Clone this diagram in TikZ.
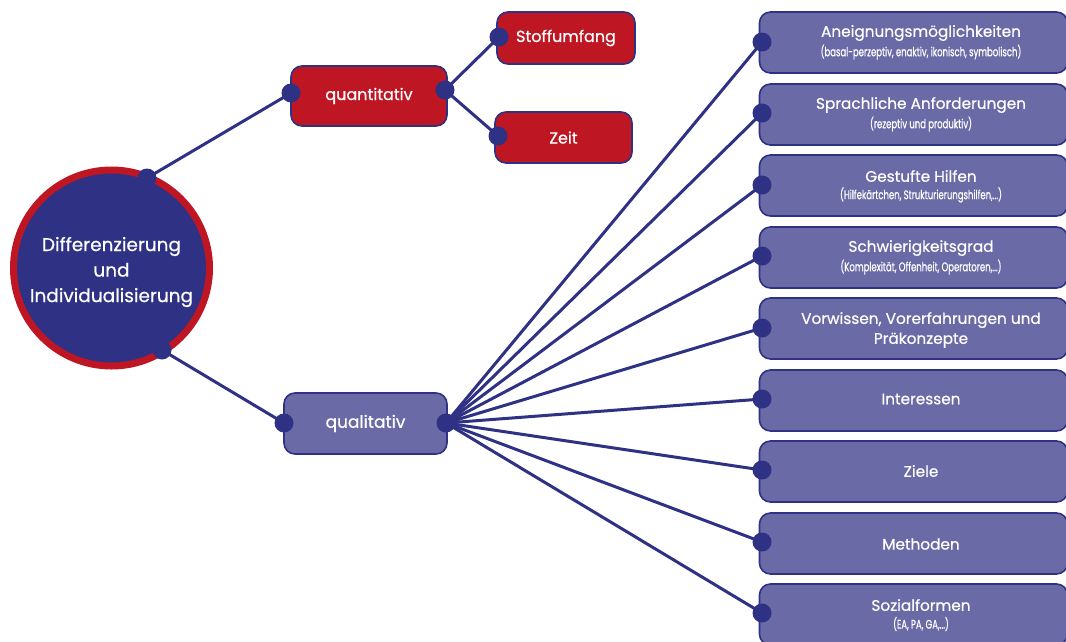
\documentclass[tikz,border=0pt]{standalone}
\usepackage{fontspec}
\setmainfont{Poppins}[FakeBold=0.6]
\newfontfamily\condfont{Poppins}[FakeStretch=0.68,FakeBold=0.6]
\definecolor{myred}{HTML}{BE1622}
\definecolor{myblue}{HTML}{2E3184}
\definecolor{mypurple}{HTML}{6A6BA6}
\begin{document}
\begin{tikzpicture}[x=1pt,y=-1pt,
  conn/.style={draw=myblue,line width=3pt},
  dotfill/.style={fill=myblue},
  redbox/.style={draw=myblue,line width=1.6pt,fill=myred,rounded corners=11pt,text=white,font=\fontsize{16}{19}\selectfont},
  purbox/.style={draw=myblue,line width=1.6pt,fill=mypurple,rounded corners=11pt,minimum width=308pt,minimum height=61pt},
  title/.style={text=white,align=center,font=\fontsize{15.3}{18}\selectfont},
  sub/.style={text=white,font=\condfont\fontsize{12.5}{13}\selectfont}
]
\useasboundingbox (0,0) rectangle (1066,641);
% central circle
\node[circle,fill=myblue,draw=myred,line width=7pt,minimum size=196pt,inner sep=0pt] (main) at (111.5,268) {};
\node[text=white,align=center,font=\fontsize{18.5}{25.5}\selectfont] (maintext) at (111.5,272) {Differenzierung\\und\\Individualisierung};
% level 1
\node[redbox,minimum width=156pt,minimum height=60pt] (quant) at (369,96) {quantitativ};
\node[purbox,minimum width=163pt,text=white,font=\fontsize{17}{20}\selectfont] (qual) at (365.5,423.5) {qualitativ};
% level 2 red
\node[redbox,minimum width=138pt,minimum height=52pt] (stoff) at (566,38) {Stoffumfang};
\node[redbox,minimum width=137pt,minimum height=51pt] (zeit) at (563.5,137.5) {Zeit};
% right boxes
\foreach \n/\y in {1/42.5,2/114.5,3/185.5,4/257.5,5/328.5,6/400.5,7/471.5,8/543.5,9/614.5}{
  \node[purbox] (b\n) at (913.5,\y) {};
}
\node[title] (t1) at (921,33) {Aneignungsmöglichkeiten};
\node[sub] (s1) at (921,52) {(basal-perzeptiv, enaktiv, ikonisch, symbolisch)};
\node[title] (t2) at (921,105) {Sprachliche Anforderungen};
\node[sub] (s2) at (921,124) {(rezeptiv und produktiv)};
\node[title] (t3) at (921,176) {Gestufte Hilfen};
\node[sub] (s3) at (921,195) {(Hilfekärtchen, Strukturierungshilfen,...)};
\node[title] (t4) at (921,248) {Schwierigkeitsgrad};
\node[sub] (s4) at (921,267) {(Komplexität, Offenheit, Operatoren,...)};
\node[title,font=\fontsize{15.3}{20}\selectfont] (t5) at (921,330) {Vorwissen, Vorerfahrungen und\\Präkonzepte};
\node[title] (t6) at (921,399) {Interessen};
\node[title] (t7) at (921,471) {Ziele};
\node[title] (t8) at (921,544) {Methoden};
\node[title] (t9) at (921,605) {Sozialformen};
\node[sub] (s9) at (921,624) {(EA, PA, GA,...)};
% dot positions
\coordinate (dm1) at (147,178);
\coordinate (dm2) at (162,350);
\coordinate (dq1) at (291,93);
\coordinate (dq2) at (445,90);
\coordinate (ds) at (499,37);
\coordinate (dz) at (498,136);
\coordinate (dl1) at (284,423);
\coordinate (dl2) at (446,423);
\foreach \n/\y in {1/42,2/113,3/185,4/256,5/328,6/399,7/470,8/542,9/613}{
  \coordinate (dr\n) at (762,\y);
}
% connectors
\draw[conn] (dm1) -- (dq1);
\draw[conn] (dm2) -- (dl1);
\draw[conn] (dq2) -- (ds);
\draw[conn] (dq2) -- (dz);
\foreach \n in {1,...,9}{
  \draw[conn] (dl2) -- (dr\n);
}
% dots
\foreach \c in {dm1,dm2,dq1,dq2,ds,dz,dl1,dl2,dr1,dr2,dr3,dr4,dr5,dr6,dr7,dr8,dr9}{
  \fill[dotfill] (\c) circle[radius=9.5pt];
}
\end{tikzpicture}
\end{document}
